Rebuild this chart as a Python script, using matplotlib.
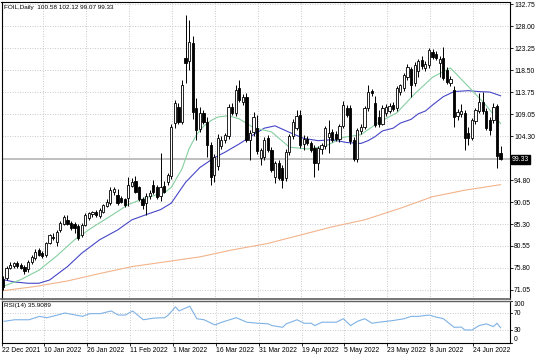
import matplotlib
matplotlib.use("Agg")
import matplotlib.pyplot as plt
import matplotlib.transforms as mtransforms
import numpy as np

plt.rcParams['font.family'] = ['Liberation Sans', 'DejaVu Sans']

# ---------------- data (daily bars) ----------------
opens = [73.5, 73.6, 75.9, 76.3, 76.8, 76.4, 76.0, 75.6, 77.0, 78.0,
         79.7, 79.0, 78.6, 81.3, 82.6, 81.4, 84.0, 85.3, 86.2, 85.5,
         85.2, 84.8, 83.0, 85.0, 86.6, 87.5, 87.8, 87.0, 87.9, 89.2,
         89.9, 92.2, 91.6, 90.9, 90.6, 91.0, 93.6, 94.6, 93.2, 90.6,
         89.8, 91.3, 93.7, 93.3, 91.4, 93.6, 94.4, 95.6, 107.1, 110.6,
         107.4, 121.1, 120.4, 124.3, 110.3, 105.8, 109.2, 107.4, 102.4, 95.9,
         97.9, 102.1, 103.4, 104.2, 110.6, 109.2, 114.6, 111.6, 112.8, 103.4,
         105.2, 106.0, 99.6, 99.8, 103.8, 101.3, 95.5, 98.4, 97.4, 95.2,
         100.9, 104.2, 106.0, 108.8, 102.6, 103.6, 102.7, 101.7, 98.4, 101.4,
         102.1, 104.0, 105.2, 104.8, 103.6, 106.4, 110.3, 110.3, 103.4, 99.4,
         105.4, 106.3, 110.4, 114.0, 111.5, 108.5, 107.0, 109.2, 109.8, 111.0,
         110.3, 113.9, 114.6, 117.0, 118.7, 115.7, 118.4, 120.8, 119.0, 119.6,
         122.5, 122.1, 120.0, 121.2, 118.6, 115.7, 114.2, 108.6, 109.0, 109.2,
         104.9, 103.9, 107.5, 109.6, 111.7, 109.6, 107.8, 107.8, 110.8, 100.58]
highs = [74.0, 76.2, 77.0, 77.2, 77.3, 76.9, 76.4, 77.5, 78.6, 79.8,
         80.2, 79.4, 81.4, 83.2, 83.4, 84.0, 85.9, 87.3, 87.2, 86.0,
         85.8, 85.4, 85.6, 87.6, 88.0, 88.2, 88.4, 88.8, 89.7, 90.6,
         93.3, 93.4, 92.8, 91.4, 91.0, 95.5, 95.2, 95.6, 93.6, 91.2,
         91.9, 92.6, 94.8, 93.8, 100.6, 94.5, 96.3, 106.8, 112.1, 111.5,
         116.4, 130.4, 129.4, 126.0, 112.5, 110.5, 110.0, 108.5, 103.0, 100.5,
         104.8, 104.2, 105.0, 111.2, 111.4, 115.3, 116.4, 113.3, 113.5, 105.5,
         109.5, 108.8, 101.8, 104.0, 104.5, 102.0, 99.0, 99.2, 98.0, 101.5,
         104.8, 108.0, 109.9, 110.0, 104.6, 104.3, 103.2, 102.3, 102.2, 102.8,
         106.5, 107.8, 105.8, 105.4, 106.9, 111.8, 111.0, 111.0, 104.0, 106.0,
         106.9, 110.8, 115.3, 114.5, 113.0, 110.0, 111.0, 111.2, 111.4, 111.6,
         115.0, 115.6, 118.0, 119.8, 119.3, 120.2, 121.0, 121.5, 120.5, 123.3,
         123.0, 122.7, 121.6, 123.5, 119.2, 117.2, 115.0, 110.2, 111.2, 110.0,
         106.3, 108.3, 110.4, 113.6, 113.9, 110.4, 108.4, 111.4, 111.2, 102.12]
lows = [71.1, 73.2, 75.5, 75.8, 75.9, 75.6, 74.6, 75.0, 76.7, 77.6,
        78.4, 77.9, 78.2, 81.0, 81.8, 80.6, 83.6, 85.0, 85.0, 84.1,
        83.4, 81.8, 82.6, 84.8, 86.2, 86.9, 86.8, 86.6, 87.6, 88.9,
        89.5, 91.6, 89.5, 89.9, 89.0, 89.2, 93.2, 91.9, 90.2, 88.6,
        87.2, 90.8, 91.8, 90.8, 90.2, 91.9, 93.8, 95.1, 106.0, 106.8,
        106.8, 115.7, 118.5, 108.0, 103.4, 105.2, 106.8, 99.8, 93.7, 94.4,
        97.0, 101.5, 102.8, 103.7, 108.8, 108.6, 111.6, 110.9, 103.0, 99.1,
        104.4, 100.4, 98.0, 99.2, 100.8, 96.6, 94.1, 94.8, 93.0, 94.6,
        100.3, 103.6, 105.5, 101.8, 101.2, 102.3, 100.9, 95.5, 97.0, 100.4,
        101.6, 100.6, 103.0, 103.2, 103.0, 106.0, 108.4, 102.6, 99.0, 98.8,
        104.8, 105.8, 109.8, 113.0, 106.2, 106.2, 106.6, 108.6, 109.2, 109.8,
        109.8, 113.2, 114.0, 116.4, 112.7, 115.0, 117.1, 118.8, 118.4, 119.0,
        121.0, 120.8, 117.1, 116.3, 115.5, 115.1, 106.3, 107.8, 108.4, 101.3,
        102.4, 103.5, 107.0, 109.2, 109.0, 105.6, 104.5, 107.2, 97.4, 99.07]
closes = [71.7, 75.9, 76.5, 76.9, 76.2, 75.9, 75.1, 77.1, 78.2, 79.3,
          78.7, 78.3, 81.1, 82.9, 82.3, 83.6, 85.5, 86.9, 85.4, 84.5,
          84.4, 82.3, 85.0, 87.2, 87.6, 87.8, 87.2, 88.3, 89.4, 90.1,
          92.6, 92.8, 89.9, 90.1, 89.3, 93.7, 94.3, 92.3, 90.6, 89.4,
          91.3, 92.1, 92.3, 91.2, 93.2, 92.3, 95.9, 106.3, 111.4, 107.4,
          115.3, 120.0, 124.7, 109.5, 105.6, 109.2, 107.4, 102.4, 95.5, 99.8,
          103.8, 103.4, 104.5, 110.6, 109.2, 114.2, 112.1, 112.8, 103.4, 104.9,
          108.5, 101.0, 101.2, 103.4, 101.3, 97.0, 98.4, 95.2, 94.8, 100.9,
          104.2, 107.4, 108.6, 102.4, 103.6, 102.9, 101.3, 98.4, 101.7, 102.3,
          106.0, 104.9, 103.5, 103.6, 106.4, 111.0, 108.8, 103.3, 99.4, 105.6,
          106.3, 110.3, 113.9, 113.6, 106.7, 106.8, 110.3, 110.6, 110.8, 110.2,
          114.6, 115.3, 117.5, 119.3, 115.4, 119.7, 120.4, 119.4, 119.8, 122.9,
          121.4, 121.2, 121.0, 116.8, 116.0, 116.7, 108.5, 109.4, 109.7, 103.8,
          103.8, 107.8, 109.9, 111.7, 109.6, 106.0, 105.6, 110.6, 99.9, 99.33]

# moving averages (at selected bars)
ma_fast_idx = [0, 5, 10, 15, 20, 25, 30, 35, 40, 45, 47, 50, 52, 54, 56, 58, 60, 63, 66,
               70, 75, 80, 85, 90, 95, 100, 105, 110, 115, 120, 125, 130, 135, 139]
ma_fast_val = [71.8, 73.3, 75.3, 78.4, 81.9, 84.6, 87.0, 89.5, 91.0, 92.0, 93.2, 97.2,
               101.6, 104.5, 106.4, 107.6, 108.4, 108.7, 108.0, 106.1, 105.2, 101.9,
               101.5, 102.1, 104.0, 104.6, 107.3, 109.3, 113.4, 117.0, 119.0, 115.0,
               110.9, 107.0]
ma_mid_idx = [0, 3, 7, 10, 13, 18, 22, 27, 32, 36, 41, 44, 47, 51, 55, 59, 62, 66, 70, 73,
              76, 80, 84, 88, 92, 96, 100, 102, 104, 106, 109, 111, 114, 116, 118, 120,
              123, 126, 130, 133, 136, 139]
ma_mid_val = [73.3, 72.8, 72.5, 72.5, 73.2, 76.1, 79.0, 81.9, 84.0, 86.2, 87.6, 88.4,
              89.8, 94.3, 97.5, 99.6, 100.8, 102.6, 104.6, 106.0, 106.5, 105.1, 103.8,
              103.3, 103.5, 102.9, 102.7, 103.3, 104.2, 105.4, 106.0, 107.1, 107.9,
              109.1, 109.7, 111.0, 112.8, 113.9, 114.1, 113.9, 113.8, 113.0]
ma_slow_idx = [0, 9, 18, 27, 36, 46, 55, 64, 74, 83, 92, 101, 111, 120, 129, 139]
ma_slow_val = [70.9, 71.8, 73.0, 74.6, 76.1, 77.2, 78.2, 79.7, 81.1, 82.9, 84.7, 86.2,
               88.7, 91.2, 92.6, 93.8]

rsi_idx = [0, 3, 7, 10, 12, 15, 17, 20, 22, 24, 27, 30, 32, 34, 36, 39, 42, 45, 46, 48,
           49, 52, 54, 56, 59, 61, 65, 68, 71, 74, 75, 78, 79, 81, 82, 84, 86, 87, 89, 92,
           93, 95, 97, 99, 101, 103, 105, 109, 112, 114, 116, 119, 121, 123, 126, 128,
           129, 131, 133, 135, 137, 138, 139]
rsi_val = [51, 54.7, 54.7, 62.7, 59.5, 65.8, 70.6, 65.8, 62.7, 69.1, 69.1, 75.4, 65.8,
           65.8, 75.4, 54.7, 58.6, 59.5, 65.8, 85.1, 75.4, 86.7, 57, 54.7, 42.6, 48.9,
           59.5, 48.9, 46.5, 45.1, 41, 36.9, 45, 51.3, 54.7, 46.5, 46.5, 41, 48.9, 48.9,
           48.9, 57.1, 41, 51.3, 57.1, 46.5, 48.9, 53, 57.1, 62.7, 62.7, 65.8, 61, 57.1,
           36.9, 37.5, 30.6, 30.6, 41, 45, 38.6, 46.5, 35.9]

price_ticks = [132.75, 128.00, 123.25, 118.50, 113.75, 109.05, 104.30,
               94.80, 90.05, 85.30, 80.55, 75.80, 71.05]
date_labels = ['22 Dec 2021', '10 Jan 2022', '26 Jan 2022', '11 Feb 2022', '1 Mar 2022',
               '16 Mar 2022', '31 Mar 2022', '19 Apr 2022', '5 May 2022', '23 May 2022',
               '8 Jun 2022', '24 Jun 2022']
rsi_levels = [30, 70]
title_main = 'FOIL,Daily  100.58 102.12 99.07 99.33'
title_rsi = 'RSI(14) 35.9089'
last_price = 99.33

# ---------------- layout ----------------
W, H = 536, 354
fig = plt.figure(figsize=(W / 100, H / 100), dpi=100)
fig.patch.set_facecolor('white')
FS = 4.9

def fx(px):
    return px / W

def fy(py):
    return 1 - py / H

L, R = 1.5, 509.5
ax = fig.add_axes([fx(L), fy(298.5), (R - L) / W, (298.5 - 2) / H])
rx = fig.add_axes([fx(L), fy(343), (R - L) / W, (343 - 300.5) / H])

n = len(closes)
x = np.arange(n)
o = np.array(opens); h = np.array(highs); lo = np.array(lows); c = np.array(closes)

grid_kw = dict(color='#c4c4c4', linestyle=(0, (1.2, 1.8)), linewidth=0.6, zorder=0)
tick_pos = [12 * k - 0.7 for k in range(len(date_labels))]

for a in (ax, rx):
    a.set_xlim(-0.42, 141.5)
    for t in tick_pos:
        a.axvline(t, **grid_kw)
    for s in a.spines.values():
        s.set_color('black')
        s.set_linewidth(0.8)

ax.set_ylim(69.21, 133.25)
for p in price_ticks:
    ax.axhline(p, **grid_kw)

# current price line
ax.axhline(last_price, color='#b4b4b4', linewidth=1.2, zorder=1)

# moving averages
ax.plot(ma_slow_idx, ma_slow_val, color='#f2b48c', linewidth=0.8, zorder=2)
ax.plot(ma_mid_idx, ma_mid_val, color='#4646c8', linewidth=0.8, zorder=2)
ax.plot(ma_fast_idx, ma_fast_val, color='#86cfa0', linewidth=0.8, zorder=2)

# candles
ax.vlines(x, lo, h, color='black', linewidth=0.7, zorder=3)
up = c >= o
body_low = np.minimum(o, c)
body_h = np.maximum(np.abs(c - o), 0.15)
ax.bar(x[up], body_h[up], bottom=body_low[up], width=0.62,
       facecolor='white', edgecolor='black', linewidth=0.6, zorder=4)
ax.bar(x[~up], body_h[~up], bottom=body_low[~up], width=0.62,
       facecolor='black', edgecolor='black', linewidth=0.6, zorder=4)

# right price axis
ax.yaxis.tick_right()
ax.set_yticks(price_ticks)
ax.set_yticklabels([f'{p:.2f}' for p in price_ticks])
ax.tick_params(axis='y', direction='out', length=2, width=0.6, pad=1.2,
               labelsize=FS, colors='black')
ax.set_xticks([])

trans = mtransforms.blended_transform_factory(ax.transAxes, ax.transData)
ax.text(1.0 + 2.5 / (R - L), last_price, f'{last_price:.2f}', transform=trans,
        fontsize=FS, color='white', va='center', ha='left', zorder=10,
        bbox=dict(boxstyle='square,pad=0.15', facecolor='black', edgecolor='black'),
        clip_on=False)

ax.text(3 / (R - L), 1 - 6 / 296.5, title_main, transform=ax.transAxes,
        fontsize=4.6, va='center', ha='left', color='black')

ax.spines['bottom'].set_linewidth(1.2)
ax.spines['bottom'].set_color('#606060')
rx.spines['top'].set_linewidth(1.0)
rx.spines['top'].set_color('#606060')

# RSI panel
rx.set_ylim(0, 100)
for lv in rsi_levels:
    rx.axhline(lv, **grid_kw)
rx.plot(rsi_idx, rsi_val, color='#7fb2e5', linewidth=0.8, zorder=3)
rx.set_yticks([])
rtrans = mtransforms.blended_transform_factory(rx.transAxes, rx.transData)
for val, va in [(100, 'top'), (70, 'center'), (30, 'center'), (0, 'bottom')]:
    rx.text(1.0 + 4 / (R - L), val, str(val), transform=rtrans, fontsize=FS,
            va=va, ha='left', color='black', clip_on=False)
    rx.plot([1.0, 1.0 + 2 / (R - L)], [val, val], transform=rtrans, color='black',
            linewidth=0.6, clip_on=False)
rx.text(3 / (R - L), 1 - 4.5 / 42.5, title_rsi, transform=rx.transAxes,
        fontsize=4.6, va='center', ha='left', color='black')

rx.set_xticks(tick_pos)
rx.set_xticklabels(date_labels)
rx.tick_params(axis='x', direction='out', length=2, width=0.6, pad=1.2,
               labelsize=FS, colors='black')
for lbl in rx.get_xticklabels():
    lbl.set_horizontalalignment('left')

fig.savefig('out.png', dpi=100, facecolor='white')
